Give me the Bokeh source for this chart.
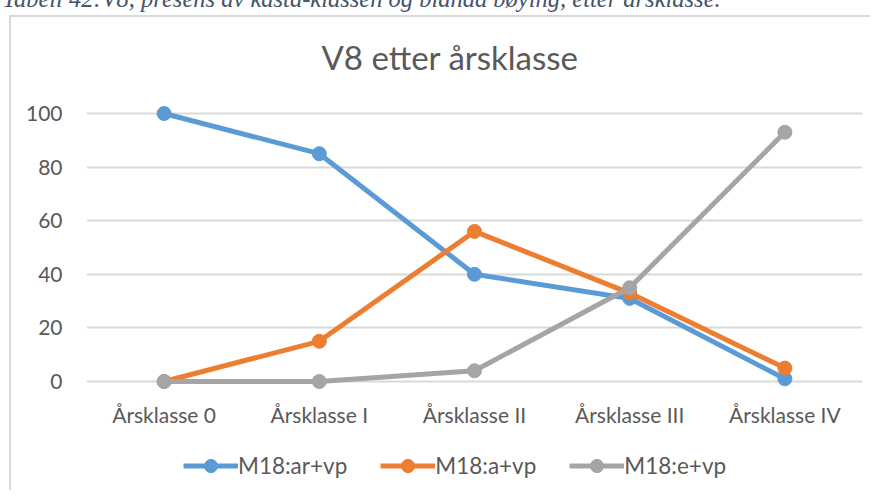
from bokeh.plotting import figure
from bokeh.layouts import column
from bokeh.models import Range1d, FixedTicker, Legend, LegendItem, Title
from bokeh.embed import file_html
from bokeh.resources import INLINE

categories = ["Årsklasse 0", "Årsklasse I", "Årsklasse II", "Årsklasse III", "Årsklasse IV"]
series_names = ["M18:ar+vp", "M18:a+vp", "M18:e+vp"]
ar_vp = [100, 85, 40, 31, 1]
a_vp = [0, 15, 56, 33, 5]
e_vp = [0, 0, 4, 35, 93]
y_ticks = [0, 20, 40, 60, 80, 100]
title_text = "V8 etter årsklasse"
caption_text = "Tabell 42:V8, presens av kasta-klassen og blanda bøying, etter årsklasse."

colors = ["#5B9BD5", "#ED7D31", "#A5A5A5"]
FONT = "Lato"
TXT = "#595959"
W = 870

# geometry (page pixels); the layout is lifted by SHIFT so the caption is cut at the top
FL, FW, FH = 86, 776, 295
FRAME_TOP = 100
TOP_BORDER = 130
SHIFT = TOP_BORDER - FRAME_TOP
BOTTOM_BORDER = 35
LEG_H = 60
Y0PX, Y100PX = 381, 113
ppu = (Y0PX - Y100PX) / 100.0
ymin = (Y0PX - (FRAME_TOP + FH)) / ppu
ymax = (Y0PX - FRAME_TOP) / ppu

p = figure(width=W, height=TOP_BORDER + FH + BOTTOM_BORDER,
           x_range=Range1d(-0.5, len(categories) - 0.5),
           y_range=Range1d(ymin, ymax),
           output_backend="svg", toolbar_location=None,
           min_border_left=FL, min_border_right=W - FL - FW,
           min_border_top=TOP_BORDER, min_border_bottom=BOTTOM_BORDER)
p.outline_line_color = None
p.background_fill_alpha = 0
p.border_fill_alpha = 0

# chart title (nearest the frame), then the document caption above it
p.add_layout(Title(text=title_text, align="left", offset=235, standoff=46.8,
                   text_font=FONT, text_font_size="33px", text_font_style="normal",
                   text_color=TXT), "above")
p.add_layout(Title(text=caption_text, align="left", offset=2 - FL, standoff=0,
                   text_font="Liberation Serif", text_font_style="italic",
                   text_font_size="24.5px", text_color="#44546A"), "above")

xs = list(range(len(categories)))
for name, vals, c in zip(series_names, [ar_vp, a_vp, e_vp], colors):
    p.line(xs, vals, line_color=c, line_width=5, line_cap="round", line_join="round")
    p.scatter(xs, vals, size=14, fill_color=c, line_color=c, marker="circle")

p.xaxis.ticker = FixedTicker(ticks=xs)
p.xaxis.major_label_overrides = {i: c for i, c in enumerate(categories)}
p.yaxis.ticker = FixedTicker(ticks=y_ticks)
for ax in (p.xaxis, p.yaxis):
    ax.axis_line_color = None
    ax.major_tick_line_color = None
    ax.minor_tick_line_color = None
    ax.major_label_text_font = FONT
    ax.major_label_text_font_size = "21px"
    ax.major_label_text_color = TXT
p.yaxis.major_label_standoff = 18
p.xaxis.major_label_standoff = 0

p.xgrid.grid_line_color = None
p.ygrid.ticker = FixedTicker(ticks=y_ticks)
p.ygrid.grid_line_color = "#D9D9D9"
p.ygrid.grid_line_width = 2

# legend strip (its renderers hold the same series, out of its view)
leg = figure(width=W, height=LEG_H, x_range=Range1d(0, W), y_range=Range1d(-1000, -940),
             x_axis_type=None, y_axis_type=None, output_backend="svg",
             toolbar_location=None, min_border=0)
leg.outline_line_color = None
leg.background_fill_alpha = 0
leg.border_fill_alpha = 0
leg.xgrid.visible = False
leg.ygrid.visible = False
items = []
for name, vals, c in zip(series_names, [ar_vp, a_vp, e_vp], colors):
    lr = leg.line(xs, vals, line_color=c, line_width=5)
    sr = leg.scatter(xs, vals, size=14, fill_color=c, line_color=c, marker="circle")
    items.append(LegendItem(label=name, renderers=[lr, sr]))
legend = Legend(items=items, orientation="horizontal", location=(183 - FL, 8),
                padding=0, spacing=33, label_standoff=0, glyph_width=55, glyph_height=33,
                label_text_font=FONT, label_text_font_size="22.5px", label_text_color=TXT,
                border_line_alpha=0, background_fill_alpha=0, margin=0)
leg.add_layout(legend, "center")

layout = column(p, leg, spacing=0)
grad = "linear-gradient(#D9D9D9,#D9D9D9)"
layout.styles = {"margin-top": f"-{SHIFT}px",
                 "background": f"{grad} 9px {15 + SHIFT}px / 2px 100% no-repeat, "
                               f"{grad} 9px {15 + SHIFT}px / 100% 2px no-repeat, white"}

open("out.html", "w").write(file_html(layout, INLINE))
